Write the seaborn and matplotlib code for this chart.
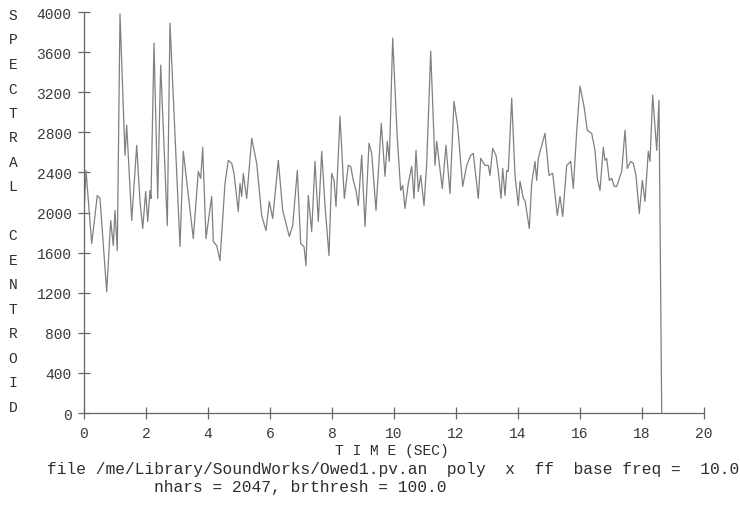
import matplotlib
matplotlib.use("Agg")
import matplotlib.pyplot as plt
import seaborn as sns
import pandas as pd

time_sec = [0.0, 0.01, 0.065, 0.248, 0.429, 0.516, 0.732, 0.861, 0.945, 1.0, 1.074,
            1.161, 1.323, 1.377, 1.539, 1.7, 1.806, 1.894, 1.99, 2.055, 2.129, 2.161,
            2.258, 2.377, 2.474, 2.687, 2.774, 3.097, 3.203, 3.526, 3.687, 3.765, 3.829,
            3.935, 4.119, 4.171, 4.281, 4.387, 4.548, 4.655, 4.765, 4.839, 4.977, 5.032,
            5.087, 5.139, 5.248, 5.41, 5.571, 5.732, 5.871, 5.977, 6.087, 6.268, 6.41,
            6.558, 6.623, 6.732, 6.881, 6.99, 7.097, 7.161, 7.235, 7.345, 7.452, 7.558,
            7.668, 7.774, 7.903, 7.99, 8.065, 8.129, 8.258, 8.397, 8.526, 8.603, 8.687,
            8.774, 8.848, 8.958, 9.065, 9.194, 9.281, 9.419, 9.59, 9.71, 9.784, 9.848,
            9.958, 10.106, 10.216, 10.281, 10.355, 10.461, 10.571, 10.645, 10.71, 10.784,
            10.861, 10.968, 11.055, 11.184, 11.323, 11.377, 11.558, 11.677, 11.806,
            11.935, 12.055, 12.216, 12.345, 12.474, 12.558, 12.719, 12.797, 12.935,
            13.042, 13.097, 13.184, 13.29, 13.365, 13.452, 13.506, 13.581, 13.635,
            13.687, 13.797, 13.903, 14.01, 14.065, 14.171, 14.226, 14.365, 14.442,
            14.548, 14.603, 14.655, 14.765, 14.871, 15.0, 15.119, 15.268, 15.355,
            15.442, 15.571, 15.7, 15.784, 15.894, 16.0, 16.129, 16.235, 16.377, 16.484,
            16.558, 16.645, 16.752, 16.806, 16.861, 16.945, 17.023, 17.106, 17.184,
            17.345, 17.452, 17.526, 17.635, 17.719, 17.806, 17.913, 18.01, 18.097,
            18.203, 18.258, 18.345, 18.474, 18.548, 18.636]

centroid = [0, 2050, 2420, 1690, 2170, 2140, 1210, 1920, 1670, 2020, 1620,
            3980, 2570, 2870, 1920, 2670, 2110, 1840, 2210, 1910, 2220, 2140,
            3690, 2140, 3470, 1870, 3890, 1660, 2610, 1740, 2410, 2340, 2650,
            1740, 2160, 1710, 1670, 1520, 2290, 2520, 2490, 2390, 2010, 2290,
            2160, 2390, 2140, 2740, 2490, 1970, 1820, 2110, 1940, 2520, 2020,
            1840, 1760, 1870, 2420, 1690, 1660, 1470, 2170, 1810, 2510, 1910,
            2610, 2070, 1570, 2390, 2320, 2060, 2960, 2140, 2470, 2460, 2320,
            2220, 2070, 2570, 1860, 2690, 2590, 2020, 2890, 2360, 2710, 2510,
            3740, 2740, 2220, 2270, 2040, 2290, 2460, 2140, 2620, 2210,
            2370, 2070, 2490, 3610, 2470, 2710, 2240, 2670, 2190,
            3110, 2860, 2260, 2470, 2570, 2590, 2140, 2540, 2470,
            2470, 2370, 2640, 2570, 2410, 2140, 2440, 2170, 2420,
            2410, 3140, 2370, 2070, 2310, 2140, 2120, 1840, 2290,
            2510, 2320, 2540, 2670, 2790, 2370, 2390, 1970, 2160,
            1960, 2470, 2510, 2240, 2810, 3260, 3060, 2820, 2790, 2620,
            2340, 2220, 2650, 2520, 2540, 2320, 2340, 2260, 2260,
            2410, 2820, 2440, 2510, 2490, 2370, 1990, 2320, 2110,
            2610, 2510, 3170, 2620, 3120, 0]

x_ticks = [0, 2, 4, 6, 8, 10, 12, 14, 16, 18, 20]
y_ticks = [0, 400, 800, 1200, 1600, 2000, 2400, 2800, 3200, 3600, 4000]
y_label = "SPECTRAL CENTROID"
x_label = "T I M E (SEC)"
footer1 = "file /me/Library/SoundWorks/Owed1.pv.an  poly  x  ff  base freq =  10.0"
footer2 = "nhars = 2047, brthresh = 100.0"

sns.set_theme(style="ticks")
plt.rcParams['font.family'] = ['Liberation Mono', 'DejaVu Sans Mono']

W, H = 740, 506
fig = plt.figure(figsize=(W / 100, H / 100), dpi=100)
ax = fig.add_axes([84 / W, 1 - 414 / H, (704 - 84) / W, (414 - 13) / H])

df = pd.DataFrame({"time": time_sec, "centroid": centroid})
sns.lineplot(data=df, x="time", y="centroid", ax=ax, color="#808080",
             linewidth=0.9, estimator=None, sort=False)

ax.set_xlim(0, 20)
ax.set_ylim(0, 4000)
ax.set_xticks(x_ticks)
ax.set_yticks(y_ticks)
ax.set_xticklabels([str(v) for v in x_ticks])
ax.set_yticklabels([str(v) for v in y_ticks])
ax.set_xlabel("")
ax.set_ylabel("")
for s in ["top", "right"]:
    ax.spines[s].set_visible(False)
for s in ["left", "bottom"]:
    ax.spines[s].set_color("#666666")
    ax.spines[s].set_linewidth(0.9)
ax.tick_params(axis="both", direction="inout", length=8, width=0.9,
               color="#666666", labelcolor="#3a3a3a", labelsize=10.5)
ax.tick_params(axis="y", pad=5)
ax.tick_params(axis="x", pad=5)

txt_color = "#2e2e2e"
# stacked vertical y label
n = len(y_label)
for i, ch in enumerate(y_label):
    py = 16 + i * (408 - 16) / (n - 1)
    fig.text(13 / W, 1 - py / H, ch, ha="center", va="center",
             fontsize=10.5, color=txt_color)

fig.text(392 / W, 1 - 451 / H, x_label, ha="center", va="center",
         fontsize=10.5, color=txt_color)
fig.text(47 / W, 1 - 470 / H, footer1, ha="left", va="center",
         fontsize=11.7, color=txt_color)
fig.text(154 / W, 1 - 488 / H, footer2, ha="left", va="center",
         fontsize=11.7, color=txt_color)

fig.savefig("out.png", dpi=100, facecolor="white")
